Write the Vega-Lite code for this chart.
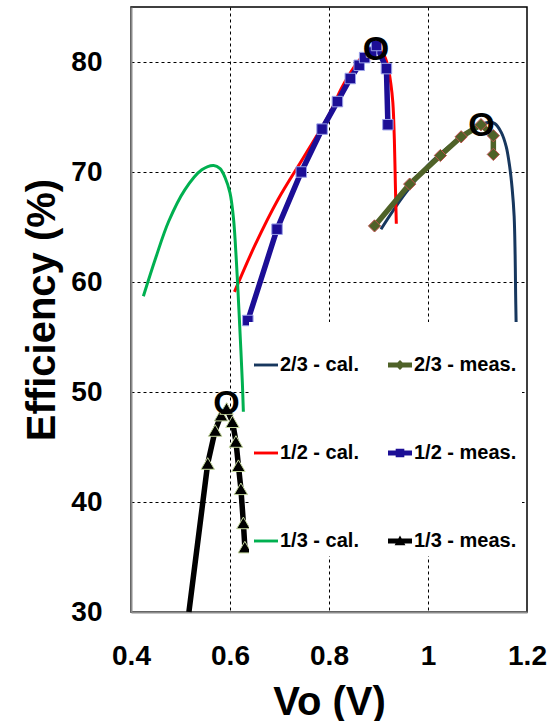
{
  "$schema": "https://vega.github.io/schema/vega-lite/v6.json",
  "width": 396,
  "height": 605,
  "padding": {"left": 22, "top": 7, "right": 0, "bottom": 0},
  "background": "white",
  "config": {
    "view": {"stroke": "black", "strokeWidth": 1.5},
    "font": "Liberation Sans"
  },
  "resolve": {"scale": {"stroke": "independent"}, "legend": {"stroke": "independent"}},
  "datasets": {
    "curves": [
      {"series": "2/3 - cal.", "kind": "cal", "i": 1, "vo": 0.905, "eff": 64.8},
      {"series": "2/3 - cal.", "kind": "cal", "i": 2, "vo": 0.95, "eff": 67.8},
      {"series": "2/3 - cal.", "kind": "cal", "i": 3, "vo": 1.0, "eff": 70.6},
      {"series": "2/3 - cal.", "kind": "cal", "i": 4, "vo": 1.05, "eff": 72.6},
      {"series": "2/3 - cal.", "kind": "cal", "i": 5, "vo": 1.09, "eff": 73.9},
      {"series": "2/3 - cal.", "kind": "cal", "i": 6, "vo": 1.12, "eff": 74.5},
      {"series": "2/3 - cal.", "kind": "cal", "i": 7, "vo": 1.135, "eff": 74.4},
      {"series": "2/3 - cal.", "kind": "cal", "i": 8, "vo": 1.148, "eff": 73.6},
      {"series": "2/3 - cal.", "kind": "cal", "i": 9, "vo": 1.158, "eff": 72.3},
      {"series": "2/3 - cal.", "kind": "cal", "i": 10, "vo": 1.165, "eff": 70.5},
      {"series": "2/3 - cal.", "kind": "cal", "i": 11, "vo": 1.17, "eff": 68.5},
      {"series": "2/3 - cal.", "kind": "cal", "i": 12, "vo": 1.174, "eff": 66.0},
      {"series": "2/3 - cal.", "kind": "cal", "i": 13, "vo": 1.176, "eff": 62.5},
      {"series": "2/3 - cal.", "kind": "cal", "i": 14, "vo": 1.177, "eff": 59.0},
      {"series": "2/3 - cal.", "kind": "cal", "i": 15, "vo": 1.178, "eff": 56.3},

      {"series": "2/3 - meas.", "kind": "meas", "i": 1, "vo": 0.892, "eff": 65.1},
      {"series": "2/3 - meas.", "kind": "meas", "i": 2, "vo": 0.963, "eff": 68.9},
      {"series": "2/3 - meas.", "kind": "meas", "i": 3, "vo": 1.025, "eff": 71.5},
      {"series": "2/3 - meas.", "kind": "meas", "i": 4, "vo": 1.067, "eff": 73.2},
      {"series": "2/3 - meas.", "kind": "meas", "i": 5, "vo": 1.107, "eff": 74.3},
      {"series": "2/3 - meas.", "kind": "meas", "i": 6, "vo": 1.132, "eff": 73.3},
      {"series": "2/3 - meas.", "kind": "meas", "i": 7, "vo": 1.132, "eff": 71.6},

      {"series": "1/2 - cal.", "kind": "cal", "i": 1, "vo": 0.609, "eff": 59.1},
      {"series": "1/2 - cal.", "kind": "cal", "i": 2, "vo": 0.65, "eff": 63.3},
      {"series": "1/2 - cal.", "kind": "cal", "i": 3, "vo": 0.697, "eff": 67.5},
      {"series": "1/2 - cal.", "kind": "cal", "i": 4, "vo": 0.751, "eff": 71.5},
      {"series": "1/2 - cal.", "kind": "cal", "i": 5, "vo": 0.8, "eff": 75.2},
      {"series": "1/2 - cal.", "kind": "cal", "i": 6, "vo": 0.825, "eff": 77.6},
      {"series": "1/2 - cal.", "kind": "cal", "i": 7, "vo": 0.85, "eff": 79.5},
      {"series": "1/2 - cal.", "kind": "cal", "i": 8, "vo": 0.87, "eff": 80.6},
      {"series": "1/2 - cal.", "kind": "cal", "i": 9, "vo": 0.885, "eff": 81.1},
      {"series": "1/2 - cal.", "kind": "cal", "i": 10, "vo": 0.898, "eff": 81.2},
      {"series": "1/2 - cal.", "kind": "cal", "i": 11, "vo": 0.91, "eff": 80.7},
      {"series": "1/2 - cal.", "kind": "cal", "i": 12, "vo": 0.918, "eff": 79.8},
      {"series": "1/2 - cal.", "kind": "cal", "i": 13, "vo": 0.925, "eff": 78.0},
      {"series": "1/2 - cal.", "kind": "cal", "i": 14, "vo": 0.929, "eff": 76.3},
      {"series": "1/2 - cal.", "kind": "cal", "i": 15, "vo": 0.932, "eff": 73.0},
      {"series": "1/2 - cal.", "kind": "cal", "i": 16, "vo": 0.934, "eff": 69.0},
      {"series": "1/2 - cal.", "kind": "cal", "i": 17, "vo": 0.936, "eff": 65.3},

      {"series": "1/2 - meas.", "kind": "meas", "i": 1, "vo": 0.636, "eff": 56.5},
      {"series": "1/2 - meas.", "kind": "meas", "i": 2, "vo": 0.695, "eff": 64.8},
      {"series": "1/2 - meas.", "kind": "meas", "i": 3, "vo": 0.744, "eff": 70.0},
      {"series": "1/2 - meas.", "kind": "meas", "i": 4, "vo": 0.786, "eff": 73.9},
      {"series": "1/2 - meas.", "kind": "meas", "i": 5, "vo": 0.817, "eff": 76.4},
      {"series": "1/2 - meas.", "kind": "meas", "i": 6, "vo": 0.843, "eff": 78.5},
      {"series": "1/2 - meas.", "kind": "meas", "i": 7, "vo": 0.861, "eff": 79.7},
      {"series": "1/2 - meas.", "kind": "meas", "i": 8, "vo": 0.872, "eff": 80.4},
      {"series": "1/2 - meas.", "kind": "meas", "i": 9, "vo": 0.886, "eff": 80.9},
      {"series": "1/2 - meas.", "kind": "meas", "i": 10, "vo": 0.896, "eff": 81.5},
      {"series": "1/2 - meas.", "kind": "meas", "i": 11, "vo": 0.916, "eff": 79.4},
      {"series": "1/2 - meas.", "kind": "meas", "i": 12, "vo": 0.919, "eff": 74.3},

      {"series": "1/3 - cal.", "kind": "cal", "i": 1, "vo": 0.425, "eff": 58.7},
      {"series": "1/3 - cal.", "kind": "cal", "i": 2, "vo": 0.45, "eff": 62.2},
      {"series": "1/3 - cal.", "kind": "cal", "i": 3, "vo": 0.476, "eff": 65.5},
      {"series": "1/3 - cal.", "kind": "cal", "i": 4, "vo": 0.509, "eff": 68.4},
      {"series": "1/3 - cal.", "kind": "cal", "i": 5, "vo": 0.543, "eff": 70.2},
      {"series": "1/3 - cal.", "kind": "cal", "i": 6, "vo": 0.567, "eff": 70.6},
      {"series": "1/3 - cal.", "kind": "cal", "i": 7, "vo": 0.58, "eff": 70.3},
      {"series": "1/3 - cal.", "kind": "cal", "i": 8, "vo": 0.59, "eff": 69.5},
      {"series": "1/3 - cal.", "kind": "cal", "i": 9, "vo": 0.6, "eff": 68.1},
      {"series": "1/3 - cal.", "kind": "cal", "i": 10, "vo": 0.607, "eff": 65.8},
      {"series": "1/3 - cal.", "kind": "cal", "i": 11, "vo": 0.613, "eff": 61.8},
      {"series": "1/3 - cal.", "kind": "cal", "i": 12, "vo": 0.618, "eff": 57.5},
      {"series": "1/3 - cal.", "kind": "cal", "i": 13, "vo": 0.622, "eff": 53.8},
      {"series": "1/3 - cal.", "kind": "cal", "i": 14, "vo": 0.625, "eff": 50.8},
      {"series": "1/3 - cal.", "kind": "cal", "i": 15, "vo": 0.627, "eff": 48.2},

      {"series": "1/3 - meas.", "kind": "meas", "i": 1, "vo": 0.517, "eff": 30.0},
      {"series": "1/3 - meas.", "kind": "meas", "i": 2, "vo": 0.555, "eff": 43.5},
      {"series": "1/3 - meas.", "kind": "meas", "i": 3, "vo": 0.57, "eff": 46.5},
      {"series": "1/3 - meas.", "kind": "meas", "i": 4, "vo": 0.582, "eff": 47.9},
      {"series": "1/3 - meas.", "kind": "meas", "i": 5, "vo": 0.593, "eff": 48.5},
      {"series": "1/3 - meas.", "kind": "meas", "i": 6, "vo": 0.605, "eff": 47.3},
      {"series": "1/3 - meas.", "kind": "meas", "i": 7, "vo": 0.612, "eff": 45.5},
      {"series": "1/3 - meas.", "kind": "meas", "i": 8, "vo": 0.617, "eff": 43.3},
      {"series": "1/3 - meas.", "kind": "meas", "i": 9, "vo": 0.622, "eff": 41.2},
      {"series": "1/3 - meas.", "kind": "meas", "i": 10, "vo": 0.627, "eff": 38.1},
      {"series": "1/3 - meas.", "kind": "meas", "i": 11, "vo": 0.63, "eff": 35.9}
    ],
    "peaks": [
      {"vo": 0.895, "eff": 81.1, "label": "O"},
      {"vo": 1.108, "eff": 74.2, "label": "O"},
      {"vo": 0.593, "eff": 48.9, "label": "O"}
    ]
  },
  "encoding": {
    "x": {"field": "vo", "type": "quantitative",
      "scale": {"domain": [0.4, 1.2], "nice": false, "zero": false},
      "axis": {
        "orient": "bottom",
        "values": [0.4, 0.6, 0.8, 1, 1.2], "format": "~g", "labelFlush": false, "labelOverlap": false,
        "grid": true,
        "gridColor": {"condition": {"test": "datum.value <= 0.41 || datum.value >= 1.19", "value": "transparent"}, "value": "black"},
        "gridDash": [3, 3], "gridWidth": 1,
        "ticks": false,
        "domainColor": "#8c8c8c", "domainWidth": 2,
        "labelFont": "Liberation Sans", "labelFontSize": 28, "labelFontWeight": "bold", "labelColor": "black", "labelPadding": 30,
        "title": "Vo (V)", "titleFont": "Liberation Sans", "titleFontSize": 40, "titleFontWeight": "bold", "titleColor": "black", "titlePadding": 12
      }
    },
    "y": {"field": "eff", "type": "quantitative",
      "scale": {"domain": [30, 85], "nice": false, "zero": false},
      "axis": {
        "orient": "left",
        "values": [30, 40, 50, 60, 70, 80], "labelFlush": false, "labelOverlap": false,
        "grid": true,
        "gridColor": {"condition": {"test": "datum.value <= 30.5", "value": "transparent"}, "value": "black"},
        "gridDash": [3, 3], "gridWidth": 1,
        "ticks": false,
        "domainColor": "#8c8c8c", "domainWidth": 2,
        "labelFont": "Liberation Sans", "labelFontSize": 28, "labelFontWeight": "bold", "labelColor": "black", "labelPadding": 29,
        "title": "Efficiency (%)", "titleFont": "Liberation Sans", "titleFontSize": 40, "titleFontWeight": "bold", "titleColor": "black", "titlePadding": 8
      }
    }
  },
  "layer": [
    {
      "data": {"name": "curves"},
      "transform": [{"filter": "datum.kind === 'cal'"}],
      "mark": {"type": "line", "strokeWidth": 3, "interpolate": "catmull-rom"},
      "encoding": {
        "order": {"field": "i", "type": "quantitative"},
        "stroke": {"field": "series", "type": "nominal", "legend": null,
          "scale": {
            "domain": ["2/3 - cal.", "1/2 - cal.", "1/3 - cal."],
            "range": ["#17375E", "#FF0000", "#00B050"]
          }
        }
      }
    },
    {
      "data": {"name": "curves"},
      "transform": [{"filter": "datum.kind === 'meas'"}],
      "mark": {"type": "line", "strokeWidth": 5.5},
      "encoding": {
        "order": {"field": "i", "type": "quantitative"},
        "stroke": {"field": "series", "type": "nominal", "legend": null,
          "scale": {
            "domain": ["2/3 - meas.", "1/2 - meas.", "1/3 - meas."],
            "range": ["#4F6228", "#1C0E96", "#000000"]
          }
        }
      }
    },
    {
      "data": {"name": "curves"},
      "transform": [{"filter": "datum.series === '2/3 - meas.'"}],
      "mark": {"type": "point", "shape": "diamond", "filled": true, "opacity": 1, "fill": "#4F6228", "stroke": "#C0504D", "strokeWidth": 1, "size": 150}
    },
    {
      "data": {"name": "curves"},
      "transform": [{"filter": "datum.series === '1/2 - meas.'"}],
      "mark": {"type": "point", "shape": "square", "filled": true, "opacity": 1, "fill": "#1C0E96", "stroke": "#9AA0E8", "strokeWidth": 1, "size": 110}
    },
    {
      "data": {"name": "curves"},
      "transform": [{"filter": "datum.series === '1/3 - meas.' && datum.eff > 31"}],
      "mark": {"type": "point", "shape": "triangle-up", "filled": true, "opacity": 1, "fill": "#000000", "stroke": "#C3D69B", "strokeWidth": 1, "size": 180}
    },
    {
      "data": {"name": "peaks"},
      "mark": {"type": "text", "font": "Liberation Sans", "fontSize": 34, "fontWeight": "bold", "color": "black", "baseline": "middle", "align": "center"},
      "encoding": {
        "text": {"field": "label"}
      }
    },
    {
      "data": {"name": "curves"},
      "transform": [{"filter": "false"}],
      "mark": {"type": "point", "filled": true, "opacity": 1, "strokeWidth": 0},
      "encoding": {
        "color": {"field": "series", "type": "nominal",
          "scale": {
            "domain": ["2/3 - cal.", "2/3 - meas.", "1/2 - cal.", "1/2 - meas.", "1/3 - cal.", "1/3 - meas."],
            "range": ["#17375E", "#4F6228", "#FF0000", "#1C0E96", "#00B050", "#000000"]
          },
          "legend": {
            "orient": "none", "legendX": 118, "legendY": 315, "columns": 2, "direction": "horizontal",
            "columnPadding": 29, "rowPadding": 66, "padding": 5,
            "fillColor": "white",
            "title": " ", "titleFontSize": 20, "titlePadding": 6,
            "symbolSize": 576, "labelOffset": 2, "symbolOpacity": 1, "symbolStrokeWidth": 0,
            "labelFont": "Liberation Sans", "labelFontSize": 20, "labelFontWeight": "bold", "labelColor": "black", "labelLimit": 300
          }
        },
        "shape": {"field": "series", "type": "nominal",
          "scale": {
            "domain": ["2/3 - cal.", "2/3 - meas.", "1/2 - cal.", "1/2 - meas.", "1/3 - cal.", "1/3 - meas."],
            "range": [
              "M-1,-0.12H1V0.12H-1Z",
              "M-1,-0.2H1V0.2H-1Z M0,-0.42L0.42,0L0,0.42L-0.42,0Z",
              "M-1,-0.12H1V0.12H-1Z",
              "M-1,-0.2H1V0.2H-1Z M-0.36,-0.36H0.36V0.36H-0.36Z",
              "M-1,-0.12H1V0.12H-1Z",
              "M-1,-0.2H1V0.2H-1Z M0,-0.45L0.45,0.35L-0.45,0.35Z"
            ]
          },
          "legend": {
            "orient": "none", "legendX": 118, "legendY": 315, "columns": 2, "direction": "horizontal",
            "columnPadding": 29, "rowPadding": 66, "padding": 5,
            "fillColor": "white",
            "title": " ", "titleFontSize": 20, "titlePadding": 6,
            "symbolSize": 576, "labelOffset": 2, "symbolOpacity": 1, "symbolStrokeWidth": 0,
            "labelFont": "Liberation Sans", "labelFontSize": 20, "labelFontWeight": "bold", "labelColor": "black", "labelLimit": 300
          }
        }
      }
    }
  ]
}
